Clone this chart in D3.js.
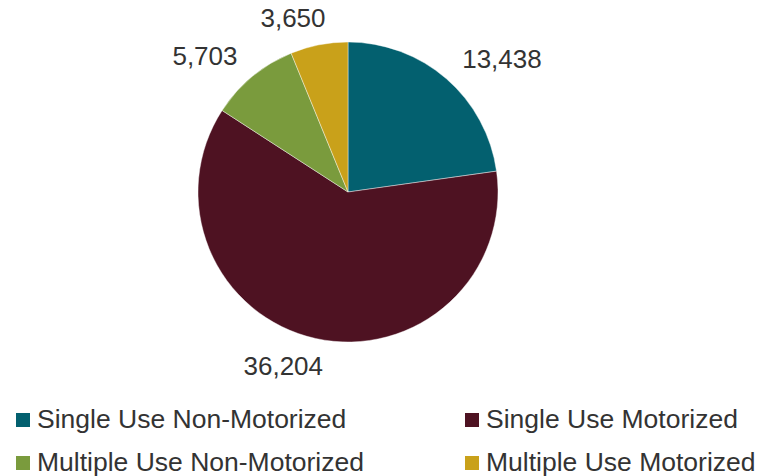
<!DOCTYPE html>
<html>
<head>
<meta charset="utf-8">
<script src="https://cdn.jsdelivr.net/npm/d3@7"></script>
<style>
  html, body { margin: 0; padding: 0; background: #fff; }
  svg { display: block; }
  text { font-family: "Liberation Sans", Arial, sans-serif; fill: #333; }
</style>
</head>
<body>
<svg id="chart" width="759" height="476"></svg>
<script>
// Trail use counts by category
const categories = [
  "Single Use Non-Motorized",
  "Single Use Motorized",
  "Multiple Use Non-Motorized",
  "Multiple Use Motorized"
];
const values = [13438, 36204, 5703, 3650];
const colors = ["#03606F", "#4E1222", "#7A9B3D", "#C9A11A"];

const W = 759, H = 476;
const cx = 348, cy = 192, radius = 150;
const labelRadius = 168;

const svg = d3.select("#chart");

const data = categories.map((c, i) => ({ category: c, value: values[i], color: colors[i] }));

const pie = d3.pie().value(d => d.value).sort(null);
const arcs = pie(data);
const arc = d3.arc().innerRadius(0).outerRadius(radius);

const g = svg.append("g").attr("transform", `translate(${cx},${cy})`);

g.selectAll("path.slice")
  .data(arcs)
  .join("path")
  .attr("class", "slice")
  .attr("d", arc)
  .attr("fill", d => d.data.color)
  .attr("stroke", "#ffffff")
  .attr("stroke-width", 0.6)
  .attr("stroke-opacity", 0.7);

// Value labels outside each slice; the text box is pushed sideways away from the pie
const fmt = d3.format(",");
const labelFont = 26;
g.selectAll("text.value")
  .data(arcs)
  .join("text")
  .attr("class", "value")
  .attr("font-size", labelFont)
  .attr("text-anchor", "middle")
  .text(d => fmt(d.data.value))
  .each(function(d) {
    const a = (d.startAngle + d.endAngle) / 2;
    const s = Math.sin(a), c = Math.cos(a);
    const w = this.getComputedTextLength();
    const h = labelFont * 0.72;
    const f = Math.min(1.1, 0.5 + Math.abs(s));
    const px = s * labelRadius + Math.sign(s) * f * w / 2;
    const py = -c * labelRadius - c * h / 2;
    d3.select(this).attr("x", px).attr("y", py + h / 2);
  });

// Legend: two columns, two rows
const legendCols = [16, 465];
const legendRows = [428, 471];
const legend = svg.append("g").attr("class", "legend");
data.forEach((d, i) => {
  const x = legendCols[i % 2];
  const y = legendRows[Math.floor(i / 2)];
  legend.append("rect")
    .attr("x", x).attr("y", y - 15)
    .attr("width", 14).attr("height", 14)
    .attr("fill", d.color);
  legend.append("text")
    .attr("x", x + 21).attr("y", y)
    .attr("font-size", 26.5)
    .text(d.category);
});
</script>
</body>
</html>
